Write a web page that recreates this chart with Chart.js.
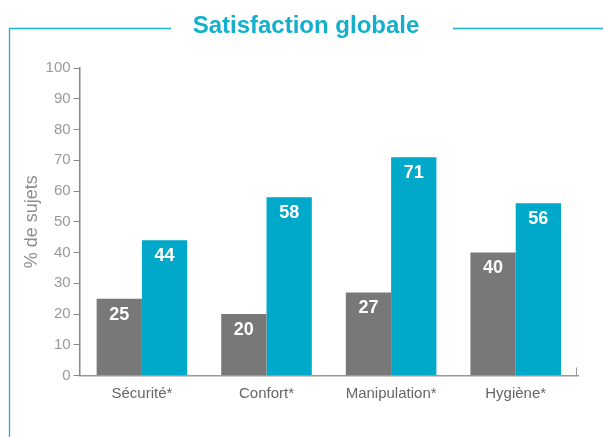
<!DOCTYPE html>
<html>
<head>
<meta charset="utf-8">
<script src="https://cdn.jsdelivr.net/npm/chart.js@4"></script>
<style>
  html, body { margin: 0; padding: 0; background: #fff; }
  #wrap { width: 603px; height: 437px; position: relative; }
</style>
</head>
<body>
<div id="wrap"><canvas id="grafico"></canvas></div>
<script>
    // Satisfaction globale - données
    const categories = ['Sécurité*', 'Confort*', 'Manipulation*', 'Hygiène*'];
    const serieGris = [25, 20, 27, 40];
    const serieBleu = [44, 58, 71, 56];
    const yTicks = [0, 10, 20, 30, 40, 50, 60, 70, 80, 90, 100];
    const titre = 'Satisfaction globale';

    const cyan = '#00a9c9';
    const gris = '#787878';
    const police = '"Liberation Sans", Arial, sans-serif';

    // titre encadré + étiquettes blanches dans les barres
    const decor = {
        id: 'decor',
        afterDraw(chart) {
            const ctx = chart.ctx;
            const area = chart.chartArea;
            ctx.save();
            ctx.strokeStyle = '#1ab3cf';
            ctx.lineWidth = 1.3;
            ctx.beginPath();
            ctx.moveTo(9.5, 437);
            ctx.lineTo(9.5, 28.5);
            ctx.lineTo(171, 28.5);
            ctx.moveTo(453, 28.5);
            ctx.lineTo(603, 28.5);
            ctx.stroke();

            ctx.fillStyle = '#13afcc';
            ctx.font = 'bold 24px ' + police;
            ctx.textAlign = 'center';
            ctx.textBaseline = 'alphabetic';
            ctx.fillText(titre, 306, 33);

            // petit trait en bout d'axe x
            ctx.strokeStyle = '#999';
            ctx.lineWidth = 1;
            ctx.beginPath();
            ctx.moveTo(area.right - 1.5, area.bottom);
            ctx.lineTo(area.right - 1.5, area.bottom - 8);
            ctx.stroke();

            ctx.fillStyle = '#fff';
            ctx.font = 'bold 18px ' + police;
            ctx.textBaseline = 'middle';
            chart.data.datasets.forEach(function(ds, i) {
                chart.getDatasetMeta(i).data.forEach(function(bar, j) {
                    ctx.fillText(String(ds.data[j]), bar.x, bar.y + 16);
                });
            });
            ctx.restore();
        }
    };

    const data = {
        labels: categories,
        datasets: [
            { label: 'A', data: serieGris, backgroundColor: gris },
            { label: 'B', data: serieBleu, backgroundColor: cyan }
        ]
    };

    const config = {
        type: 'bar',
        data: data,
        options: {
            responsive: true,
            maintainAspectRatio: false,
            animation: false,
            layout: { padding: { left: 21, right: 25, top: 68, bottom: 33.5 } },
            datasets: { bar: { barPercentage: 1, categoryPercentage: 0.727 } },
            plugins: {
                legend: { display: false },
                tooltip: { enabled: false },
                title: { display: false }
            },
            scales: {
                x: {
                    grid: { display: false },
                    border: { color: '#999', width: 1.5 },
                    ticks: {
                        color: '#666',
                        padding: 1,
                        font: { family: police, size: 15 }
                    }
                },
                y: {
                    min: 0,
                    max: 100,
                    afterBuildTicks(axis) {
                        axis.ticks = yTicks.map(function(v) { return { value: v }; });
                    },
                    grid: { drawOnChartArea: false, tickLength: 6, tickColor: '#888' },
                    border: { color: '#888', width: 1.5 },
                    ticks: {
                        color: '#999',
                        padding: 3,
                        font: { family: police, size: 15 }
                    },
                    title: {
                        display: true,
                        text: '% de sujets',
                        color: '#8f8f8f',
                        padding: { top: 0, bottom: 0 },
                        font: { family: police, size: 18 }
                    }
                }
            }
        },
        plugins: [decor]
    };

    const myChart = new Chart(document.getElementById('grafico'), config);
</script>
</body>
</html>
